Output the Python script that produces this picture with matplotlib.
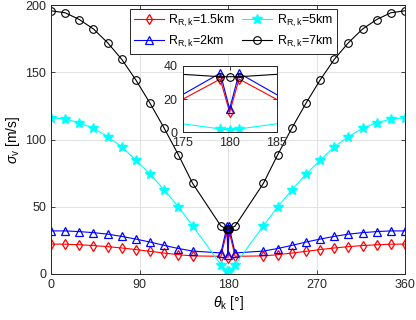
import matplotlib.pyplot as plt
import matplotlib

matplotlib.rc("font", family=['Liberation Sans', 'DejaVu Sans'])
matplotlib.rcParams['mathtext.fontset'] = 'custom'
matplotlib.rcParams['mathtext.rm'] = 'Liberation Sans'
matplotlib.rcParams['mathtext.it'] = 'Liberation Sans:italic'

# angle grid (deg)
theta = [0, 14.4, 28.8, 43.2, 57.6, 72, 86.4, 100.8, 115.2, 129.6, 144,
         172.8, 179, 180, 181, 187.2,
         216, 230.4, 244.8, 259.2, 273.6, 288, 302.4, 316.8, 331.2, 345.6, 360]

# sigma_v [m/s] for each R_R,k
s_15km = [22.2, 22.1, 21.7, 21.1, 20.3, 19.3, 18.1, 16.8, 15.5, 14.3, 13.4,
          13.1, 32.0, 12.0, 32.0, 13.1,
          13.4, 14.3, 15.5, 16.8, 18.1, 19.3, 20.3, 21.1, 21.7, 22.1, 22.2]
s_2km = [32.0, 32.0, 31.5, 30.7, 29.6, 27.9, 25.9, 23.7, 21.2, 18.9, 17.0,
         15.6, 35.5, 14.0, 35.5, 15.6,
         17.0, 18.9, 21.2, 23.7, 25.9, 27.9, 29.6, 30.7, 31.5, 32.0, 32.0]
s_5km = [116.2, 115.2, 112.5, 108.3, 102.1, 94.6, 84.5, 74.1, 62.5, 49.8, 35.8,
         6.8, 2.0, 1.4, 2.0, 6.8,
         35.8, 49.8, 62.5, 74.1, 84.5, 94.6, 102.1, 108.3, 112.5, 115.2, 116.2]
s_7km = [195.8, 194.3, 189.3, 182.2, 172.0, 159.6, 144.2, 126.9, 108.3, 88.5, 67.4,
         35.6, 33.4, 33.4, 33.4, 35.6,
         67.4, 88.5, 108.3, 126.9, 144.2, 159.6, 172.0, 182.2, 189.3, 194.3, 195.8]

labels = [r'R$_{\mathrm{R,k}}$=1.5km', r'R$_{\mathrm{R,k}}$=2km',
          r'R$_{\mathrm{R,k}}$=5km', r'R$_{\mathrm{R,k}}$=7km']


def draw(ax, ms=5.5):
    ax.plot(theta, s_15km, '-d', color='#ff0000', mfc='none', ms=ms, mew=0.9, lw=0.8, label=labels[0])
    ax.plot(theta, s_2km, '-^', color='#0000ff', mfc='none', ms=ms, mew=0.9, lw=0.8, label=labels[1])
    ax.plot(theta, s_5km, '-*', color='#00ffff', ms=ms + 1.5, lw=0.8, label=labels[2])
    ax.plot(theta, s_7km, '-o', color='k', mfc='none', ms=ms, mew=0.8, lw=0.8, label=labels[3])


def style(ax):
    ax.grid(True, color='#e3e3e3', lw=0.7)
    ax.set_axisbelow(True)
    ax.tick_params(direction='in', top=True, right=True, labelsize=9,
                   length=3, width=0.6, color='#262626', labelcolor='#262626')
    for s in ax.spines.values():
        s.set_color('#262626')
        s.set_linewidth(0.7)


fig = plt.figure(figsize=(4.16, 3.2), dpi=100)
ax = fig.add_axes([0.1226, 0.144, 0.851, 0.840])
draw(ax)
ax.set_xlim(0, 360)
ax.set_ylim(0, 200)
ax.set_xticks([0, 90, 180, 270, 360])
ax.set_yticks([0, 50, 100, 150, 200])
style(ax)
ax.set_xlabel(r'$\theta_{\mathrm{k}}$ [°]', fontsize=10, labelpad=2)
ax.set_ylabel(r'$\sigma_{\mathrm{v}}$ [m/s]', fontsize=10, labelpad=2)
leg = ax.legend(ncol=2, loc='upper center', bbox_to_anchor=(0.515, 0.996),
                fontsize=9, frameon=True, fancybox=False, edgecolor='#262626',
                handlelength=2.4, columnspacing=0.6, handletextpad=0.35,
                borderpad=0.35, labelspacing=0.35, framealpha=1,
                borderaxespad=0.2)
leg.get_frame().set_linewidth(0.7)

axin = fig.add_axes([0.439, 0.5866, 0.226, 0.208])
draw(axin)
axin.set_xlim(175, 185)
axin.set_ylim(0, 40)
axin.set_xticks([175, 180, 185])
axin.set_yticks([0, 20, 40])
style(axin)

plt.savefig('out.png', dpi=100)
